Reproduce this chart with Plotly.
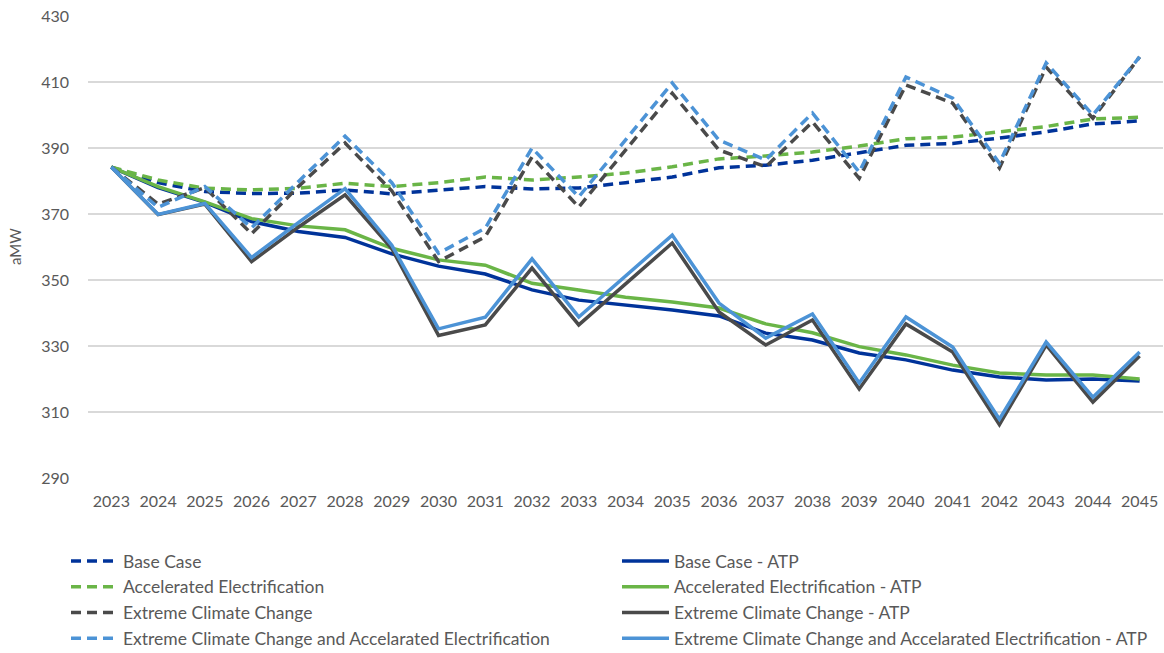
import plotly.graph_objects as go

# Annual average load forecasts (aMW) by scenario
years = [str(y) for y in range(2023, 2046)]

base_case = [384.2, 379.5, 376.8, 376.2, 376.3, 377.3, 376.1, 377.3, 378.3, 377.6, 377.9, 379.5,
             381.2, 384.0, 384.8, 386.3, 388.5, 390.8, 391.4, 393.0, 394.9, 397.3, 398.2]
accel_elec = [384.2, 380.3, 377.8, 377.3, 377.8, 379.3, 378.3, 379.5, 381.2, 380.3, 381.2, 382.4,
              384.3, 386.7, 387.6, 388.8, 390.6, 392.8, 393.3, 394.8, 396.5, 398.8, 399.3]
extreme_cc = [384.2, 373.0, 378.0, 364.0, 378.3, 391.5, 377.0, 355.6, 363.1, 387.3, 372.1, 389.4,
              406.6, 389.4, 384.3, 397.9, 380.8, 409.1, 403.6, 383.9, 414.5, 399.0, 417.6]
extreme_cc_ae = [384.2, 372.0, 378.3, 365.8, 379.8, 393.6, 379.5, 358.1, 365.7, 390.0, 375.2, 392.4,
                 409.7, 392.4, 386.4, 400.6, 382.7, 411.5, 405.1, 385.4, 415.8, 400.0, 417.6]

base_case_atp = [384.2, 378.0, 373.5, 367.7, 364.7, 362.9, 357.9, 354.2, 351.8, 347.0, 343.9, 342.4,
                 340.9, 339.1, 333.9, 331.8, 327.9, 325.8, 322.7, 320.6, 319.7, 320.0, 319.4]
accel_elec_atp = [384.2, 378.3, 373.7, 368.6, 366.4, 365.2, 359.6, 356.1, 354.5, 349.0, 347.0, 344.8,
                  343.3, 341.5, 336.7, 334.0, 329.8, 327.3, 324.2, 321.8, 321.2, 321.2, 320.0]
extreme_cc_atp = [384.2, 369.8, 373.0, 355.6, 366.0, 375.8, 359.5, 333.2, 336.4, 353.6, 336.4, 348.8,
                  361.2, 340.3, 330.3, 337.9, 317.0, 336.7, 328.2, 306.2, 330.3, 313.0, 327.0]
extreme_cc_ae_atp = [384.2, 369.9, 373.2, 356.8, 367.4, 377.7, 360.5, 335.2, 338.7, 356.4, 338.8, 351.2,
                     363.6, 343.0, 332.4, 339.7, 318.8, 338.8, 329.7, 307.8, 331.2, 314.5, 328.2]

DARK_BLUE = "#00339a"
GREEN = "#6ab547"
GRAY = "#4a4a4a"
LIGHT_BLUE = "#4c93d6"
TEXT = "#595959"
FONT = "Lato"

series = [
    ("Base Case", base_case, DARK_BLUE, True, "legend"),
    ("Base Case - ATP", base_case_atp, DARK_BLUE, False, "legend2"),
    ("Accelerated Electrification", accel_elec, GREEN, True, "legend"),
    ("Accelerated Electrification - ATP", accel_elec_atp, GREEN, False, "legend2"),
    ("Extreme Climate Change", extreme_cc, GRAY, True, "legend"),
    ("Extreme Climate Change - ATP", extreme_cc_atp, GRAY, False, "legend2"),
    ("Extreme Climate Change and Accelarated Electrification", extreme_cc_ae, LIGHT_BLUE, True, "legend"),
    ("Extreme Climate Change and Accelarated Electrification - ATP", extreme_cc_ae_atp, LIGHT_BLUE, False, "legend2"),
]

fig = go.Figure()
for name, values, color, dashed, leg in series:
    fig.add_trace(go.Scatter(
        x=years, y=values, name=name, mode="lines", legend=leg,
        line=dict(color=color, width=3.5, dash="10px,6px" if dashed else "solid"),
    ))

W, H = 1164, 653

legend_style = dict(
    orientation="v", xanchor="left", yanchor="top",
    xref="container", yref="container",
    font=dict(family=FONT, size=17.5, color=TEXT),
    bgcolor="rgba(0,0,0,0)", tracegroupgap=0, itemwidth=47,
)

fig.update_layout(
    width=W, height=H,
    margin=dict(l=88, r=1, t=16, b=175, autoexpand=False),
    paper_bgcolor="white", plot_bgcolor="white",
    font=dict(family=FONT, size=16, color=TEXT),
    showlegend=True,
    legend=dict(x=66 / W, y=1 - 543 / H, **legend_style),
    legend2=dict(x=617 / W, y=1 - 543 / H, **legend_style),
    xaxis=dict(
        type="category", range=[-0.5, len(years) - 0.5],
        showgrid=False, showline=False, zeroline=False,
        tickfont=dict(family=FONT, size=16, color=TEXT), ticklabelstandoff=12,
    ),
    yaxis=dict(
        range=[290, 430], dtick=20, tick0=290,
        showgrid=True, gridcolor="#d9d9d9", gridwidth=1.5,
        showline=False, zeroline=False,
        tickfont=dict(family=FONT, size=16, color=TEXT), ticklabelstandoff=18,
    ),
    annotations=[dict(
        text="aMW", textangle=-90, xref="paper", yref="paper",
        x=(15 - 88) / 1075, y=0.5, xanchor="center", yanchor="middle", showarrow=False,
        font=dict(family=FONT, size=15, color=TEXT),
    )],
)

fig.write_html("out.html")
